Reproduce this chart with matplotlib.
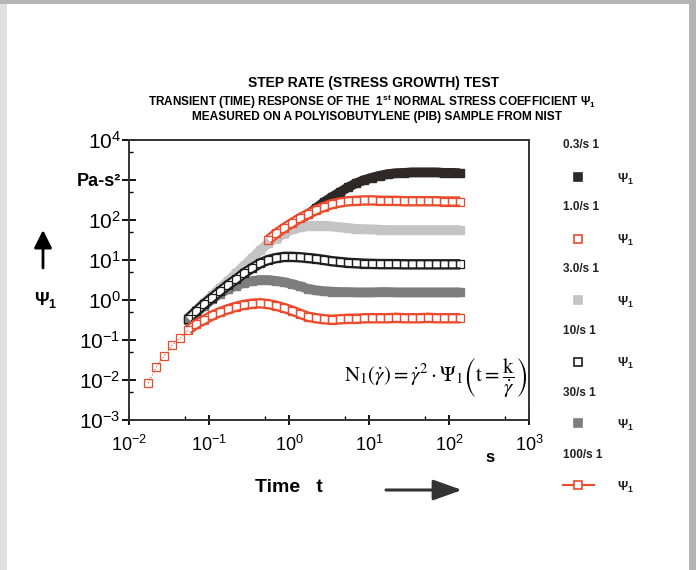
import matplotlib as mpl
mpl.use('Agg')
import matplotlib.pyplot as plt
from matplotlib.lines import Line2D
from matplotlib.patches import Rectangle

plt.rcParams['font.family'] = ['Liberation Sans', 'DejaVu Sans']
plt.rcParams['mathtext.fontset'] = 'custom'
plt.rcParams['mathtext.rm'] = 'Liberation Sans'
plt.rcParams['mathtext.it'] = 'Liberation Sans:italic'
plt.rcParams['mathtext.bf'] = 'Liberation Sans:bold'

# sampling times (s), shared by all runs
time_s = [0.0174, 0.0219, 0.0275, 0.0347, 0.0437, 0.055, 0.0692, 0.0871, 0.110, 0.138,
          0.174, 0.219, 0.275, 0.347, 0.437, 0.550, 0.692, 0.871, 1.10, 1.38,
          1.74, 2.19, 2.75, 3.47, 4.37, 5.50, 6.92, 8.71, 11.0, 13.8,
          17.4, 21.9, 27.5, 34.7, 43.7, 55.0, 69.2, 87.1, 110, 138]

# psi_1 (Pa s^2) for each shear rate, and index of first sample
psi_03 = [36, 48, 69, 100, 141, 200, 282, 380, 501, 661,
          832, 1000, 1150, 1290, 1410, 1480, 1510, 1550, 1550, 1550,
          1550, 1510, 1510, 1480]
start_03 = 16
psi_1 = [32, 46, 63, 85, 112, 141, 178, 214, 251, 275,
         295, 302, 309, 309, 302, 302, 302, 295, 295, 295,
         295, 295, 290, 290, 290]
start_1 = 15
psi_3 = [0.35, 0.56, 0.85, 1.3, 2.0, 3.0, 4.7, 7.2, 11.2, 17.4,
         26, 36, 47, 58, 66, 71, 72, 72, 69, 66,
         63, 60, 59, 58, 57, 56, 56, 56, 56, 56,
         56, 56, 56, 56, 56]
start_3 = 5
psi_10 = [0.34, 0.52, 0.79, 1.15, 1.66, 2.4, 3.3, 4.7, 6.3, 8.3,
          10.0, 11.2, 12.0, 12.0, 11.7, 11.2, 10.7, 10.0, 9.3, 8.9,
          8.5, 8.3, 8.1, 8.0, 7.9, 7.9, 7.9, 7.8, 7.8, 7.8,
          7.8, 7.8, 7.8, 7.8, 7.8]
start_10 = 5
psi_30 = [0.32, 0.48, 0.71, 1.05, 1.45, 1.9, 2.3, 2.7, 3.0, 3.16,
          3.16, 3.0, 2.8, 2.5, 2.2, 1.9, 1.74, 1.66, 1.62, 1.58,
          1.58, 1.55, 1.55, 1.55, 1.58, 1.58, 1.55, 1.55, 1.55, 1.55,
          1.55, 1.55, 1.55, 1.55, 1.55]
start_30 = 5
psi_100 = [0.0083, 0.021, 0.040, 0.074, 0.11, 0.18, 0.25, 0.32, 0.41, 0.50,
           0.59, 0.68, 0.76, 0.81, 0.83, 0.79, 0.72, 0.63, 0.54, 0.45,
           0.38, 0.35, 0.33, 0.32, 0.33, 0.34, 0.34, 0.35, 0.35, 0.35,
           0.35, 0.36, 0.35, 0.35, 0.35, 0.36, 0.35, 0.35, 0.35, 0.35]
start_100 = 0

rate_labels = ['0.3/s 1', '1.0/s 1', '3.0/s 1', '10/s 1', '30/s 1', '100/s 1']

red = '#ec4a2c'
colors = ['#2e2828', red, '#c4c4c4', '#1e1e1e', '#7d7d7d', red]
filled = [True, False, True, False, True, False]
series = [(start_03, psi_03), (start_1, psi_1), (start_3, psi_3),
          (start_10, psi_10), (start_30, psi_30), (start_100, psi_100)]
order = [0, 2, 1, 4, 3, 5]
# the first few points of a run are sparse; the band begins after them
sparse = [0, 0, 0, 0, 0, 5]

W, H = 696, 570
fig = plt.figure(figsize=(W / 100, H / 100), dpi=100)
fig.patch.set_facecolor('white')

def fx(px):
    return px / W

def fy(py):
    return 1 - py / H

# frame of the picture
fig.add_artist(Rectangle((0, 0), fx(7), 1, transform=fig.transFigure, color='#dfe1df', lw=0))
fig.add_artist(Rectangle((0, fy(4)), 1, 4 / H, transform=fig.transFigure, color='#b5b5b5', lw=0))
fig.add_artist(Rectangle((fx(689), 0), 7 / W, 1, transform=fig.transFigure, color='#b3b3b3', lw=0))

ax = fig.add_axes([fx(129), fy(420), 400 / W, 280 / H])
# dense square markers in the original merge into bands
for z, i in enumerate(order):
    s, vals = series[i]
    t = time_s[s:s + len(vals)]
    c = colors[i]
    k = sparse[i]
    zz = 2 + 3 * z
    if filled[i]:
        ax.plot(t, vals, color=c, lw=7, solid_capstyle='butt', zorder=zz)
        ax.plot(t, vals, ls='none', marker='s', ms=6, color=c, zorder=zz)
    else:
        if k:
            ax.plot(t[:k + 1], vals[:k + 1], color=c, lw=0.8, ls=':', zorder=zz)
        ax.plot(t[k:], vals[k:], color=c, lw=7.5, solid_capstyle='butt', zorder=zz)
        ax.plot(t[k:], vals[k:], color='white', lw=4.3, solid_capstyle='butt', zorder=zz + 1)
        ax.plot(t, vals, ls='none', marker='s', ms=5.5, mfc='none', mec=c, mew=0.9, zorder=zz + 2)

ax.set_xscale('log')
ax.set_yscale('log')
ax.set_xlim(1e-2, 1e3)
ax.set_ylim(1e-3, 1e4)

for sp in ax.spines.values():
    sp.set_linewidth(1.4)
    sp.set_color('#333333')

xt = [1e-2, 1e-1, 1, 1e1, 1e2, 1e3]
ax.set_xticks(xt)
ax.set_xticklabels([r'$10^{-2}$', r'$10^{-1}$', r'$10^{0}$', r'$10^{1}$', r'$10^{2}$', r'$10^{3}$'])
ax.set_xticks([5e-2, 5e-1, 5, 5e1, 5e2], minor=True)
ax.set_xticklabels([], minor=True)
yt = [1e-3, 1e-2, 1e-1, 1, 1e1, 1e2, 1e3, 1e4]
ax.set_yticks(yt)
ax.set_yticklabels([r'$10^{-3}$', r'$10^{-2}$', r'$10^{-1}$', r'$10^{0}$', r'$10^{1}$',
                    r'$10^{2}$', 'Pa-s²', r'$10^{4}$'])
ax.set_yticks([5e-3, 5e-2, 5e-1, 5, 5e1, 5e2, 5e3], minor=True)
ax.set_yticklabels([], minor=True)
ax.tick_params(axis='y', which='major', direction='inout', length=10, width=1.3, pad=1, labelsize=15)
ax.tick_params(axis='x', which='major', direction='inout', length=7, width=1.3, pad=7, labelsize=13)
ax.tick_params(which='minor', direction='in', length=3, width=1)
ax.get_yticklabels()[6].set_fontweight('bold')
ax.get_yticklabels()[6].set_fontsize(13)

# title
fig.text(fx(374), fy(83), 'STEP RATE (STRESS GROWTH) TEST', ha='center', va='center',
         fontsize=10, fontweight='bold')
fig.text(fx(372), fy(102), r'TRANSIENT (TIME) RESPONSE OF THE  1$^{\mathbf{st}}$ NORMAL STRESS COEFFICIENT $\mathbf{\Psi}_\mathbf{1}$',
         ha='center', va='center', fontsize=8.5, fontweight='bold')
fig.text(fx(377), fy(117), 'MEASURED ON A POLYISOBUTYLENE (PIB) SAMPLE FROM NIST', ha='center', va='center',
         fontsize=8.6, fontweight='bold')

# axis labels and arrows
fig.text(fx(289), fy(487), 'Time   t', ha='center', va='center', fontsize=14, fontweight='bold')
fig.text(fx(490), fy(458), 's', ha='center', va='center', fontsize=12, fontweight='bold')
ax.annotate('', xy=(fx(462), fy(490)), xytext=(fx(386), fy(490)), xycoords='figure fraction',
            arrowprops=dict(arrowstyle='-|>,head_length=0.7,head_width=0.25', lw=2.2,
                            color='#333333', mutation_scale=25, shrinkA=0, shrinkB=0))
ax.annotate('', xy=(fx(43), fy(230)), xytext=(fx(43), fy(268)), xycoords='figure fraction',
            arrowprops=dict(arrowstyle='-|>,head_length=0.6,head_width=0.3', lw=2.0,
                            color='black', mutation_scale=18, shrinkA=0, shrinkB=0))
fig.text(fx(46), fy(300), r'$\mathbf{\Psi}_\mathbf{1}$', ha='center', va='center', fontsize=13)

# formula
fig.text(fx(436), fy(378), r'$\mathrm{N}_1(\dot{\gamma}) = \dot{\gamma}^2 \cdot \Psi_1\left(\mathrm{t} = \dfrac{\mathrm{k}}{\dot{\gamma}}\right)$',
         ha='center', va='center', fontsize=15, math_fontfamily='stix')

# legend on the right
for i, lab in enumerate(rate_labels):
    ly = 145 + i * 62
    my = 177 + i * 61.6
    fig.text(fx(563), fy(ly), lab, ha='left', va='center', fontsize=8.5, fontweight='bold', color='#222222')
    c = colors[i]
    st = dict(marker='s', ms=6, color=c, mec=c, mfc=c if filled[i] else 'white', mew=1.2)
    if i == 5:
        xs = [fx(563), fx(578), fx(594)]
        fig.add_artist(Line2D(xs, [fy(my)] * 3, transform=fig.transFigure, lw=1.5, markevery=[1], **st))
    else:
        fig.add_artist(Line2D([fx(578)], [fy(my)], transform=fig.transFigure, lw=0, **st))
    fig.text(fx(617), fy(my + 2), r'$\mathbf{\Psi}_\mathbf{1}$', ha='left', va='center', fontsize=9, color='#222222')

fig.savefig('out.png', dpi=100)
